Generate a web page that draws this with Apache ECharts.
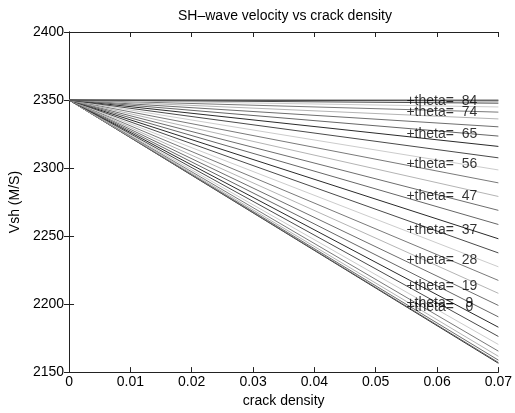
<!DOCTYPE html>
<html>
<head>
<meta charset="utf-8">
<script src="https://cdn.jsdelivr.net/npm/echarts@6/dist/echarts.min.js"></script>
<style>html,body{margin:0;padding:0;background:#fff}#c{width:515px;height:413px}</style>
</head>
<body>
<div id="c"></div>
<script>
// crack density range of each line (start and end)
var crackDensity = [0, 0.07];
var startVsh = 2350;
// Vsh at crack density 0.07 for each of the 30 propagation angles (bottom to top)
var endVsh = [2156.5, 2157.1, 2158.8, 2161.6, 2165.4, 2170.3, 2176.2, 2183.0, 2190.6, 2199.0,
              2207.9, 2217.4, 2227.4, 2237.6, 2248.0, 2258.5, 2268.9, 2279.1, 2289.1, 2298.6,
              2307.5, 2315.9, 2323.5, 2330.3, 2336.1, 2341.1, 2344.9, 2347.7, 2349.4, 2350.0];
// labels
var labelTheta = [0, 9, 19, 28, 37, 47, 56, 65, 74, 84];
var labelX = 0.055;
var labelVsh = [2198, 2201, 2213, 2232, 2254, 2279, 2303, 2325, 2341, 2349];
var xTicks = ['0', '0.01', '0.02', '0.03', '0.04', '0.05', '0.06', '0.07'];
var yTicks = [2150, 2200, 2250, 2300, 2350, 2400];

var grays = ['#2a2a2a', '#666666', '#6e6e6e', '#b4b4b4', '#7a7a7a', '#cccccc', '#4a4a4a'];
var FONT = 'Liberation Sans';

var series = endVsh.map(function (v, i) {
  return {
    type: 'line',
    data: [[crackDensity[0], startVsh], [crackDensity[1], v]],
    showSymbol: false,
    symbol: 'none',
    lineStyle: { width: 1, color: grays[i % grays.length] },
    silent: true,
    z: 2
  };
});

function pad3(n) { var s = String(n); while (s.length < 3) s = ' ' + s; return s; }

series.push({
  type: 'scatter',
  symbolSize: 0,
  data: labelTheta.map(function (t, i) { return { value: [labelX, labelVsh[i]], name: '+theta= ' + pad3(t) }; }),
  label: {
    show: true,
    position: 'insideLeft',
    distance: 0,
    formatter: function (p) { return p.name; },
    color: '#000',
    fontFamily: FONT,
    fontSize: 14
  },
  silent: true,
  z: 5
});

var axisCommon = {
  axisLine: { show: true, lineStyle: { color: '#222', width: 1 } },
  axisTick: { show: true, inside: true, length: 5, lineStyle: { color: '#222' } },
  splitLine: { show: false }
};

var option = {
  animation: false,
  backgroundColor: '#fff',
  title: {
    text: 'SH\u2013wave velocity vs crack density',
    left: 173, top: 4,
    textStyle: { fontFamily: FONT, fontSize: 14, fontWeight: 'normal', color: '#000' }
  },
  grid: { left: 64, top: 32, width: 438, height: 344, containLabel: false },
  xAxis: [
    Object.assign({
      type: 'value', min: 0, max: 0.07, interval: 0.01, position: 'bottom',
      name: 'crack density', nameLocation: 'middle', nameGap: 21,
      nameTextStyle: { fontFamily: FONT, fontSize: 14, color: '#000' },
      axisLabel: { fontFamily: FONT, fontSize: 14, color: '#000', margin: 3,
        formatter: function (v) { var i = Math.round(v / 0.01); return xTicks[i]; } }
    }, axisCommon),
    Object.assign({
      type: 'value', min: 0, max: 0.07, interval: 0.01, position: 'top',
      axisLabel: { show: false }
    }, axisCommon)
  ],
  yAxis: [
    Object.assign({
      type: 'value', min: 2150, max: 2400, interval: 50, position: 'left',
      name: 'Vsh (M/S)', nameLocation: 'middle', nameGap: 35,
      nameTextStyle: { fontFamily: FONT, fontSize: 14, color: '#000' },
      axisLabel: { fontFamily: FONT, fontSize: 14, color: '#000', margin: 5,
        formatter: function (v) { var i = Math.round((v - 2150) / 50); return String(yTicks[i]); } }
    }, axisCommon),
    Object.assign({
      type: 'value', min: 2150, max: 2400, interval: 50, position: 'right',
      axisLabel: { show: false }
    }, axisCommon)
  ],
  series: series
};

var chart = echarts.init(document.getElementById('c'), null, { renderer: 'canvas' });
chart.setOption(option);
</script>
</body>
</html>
